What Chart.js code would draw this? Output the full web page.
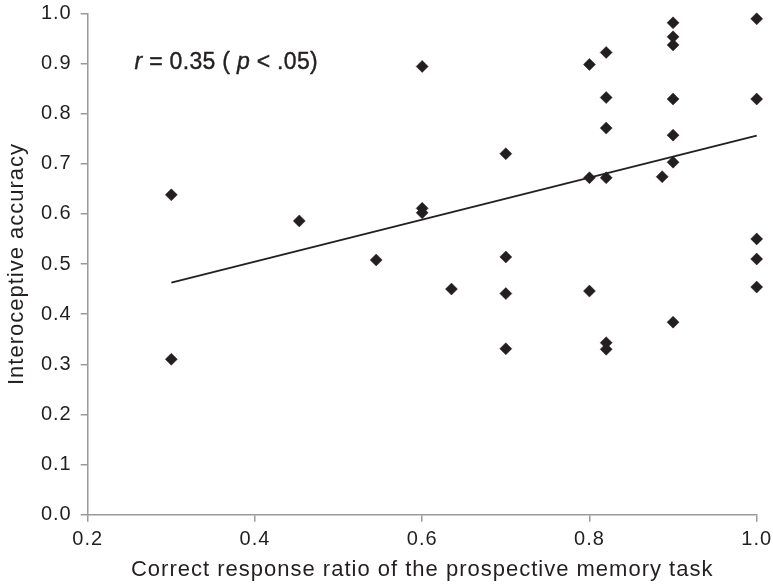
<!DOCTYPE html>
<html>
<head>
<meta charset="utf-8">
<script src="https://cdn.jsdelivr.net/npm/chart.js@4.4.1/dist/chart.umd.min.js"></script>
<style>
  html, body { margin: 0; padding: 0; background: #ffffff; }
  #wrap { width: 773px; height: 587px; position: relative; }
</style>
</head>
<body>
<div id="wrap"><canvas id="c"></canvas></div>
<script>
// ---- data ----
const xValues = [0.30, 0.30, 0.453, 0.545, 0.60, 0.60, 0.60, 0.635, 0.70, 0.70, 0.70, 0.70,
                 0.80, 0.80, 0.80, 0.82, 0.82, 0.82, 0.82, 0.82, 0.82, 0.887,
                 0.90, 0.90, 0.90, 0.90, 0.90, 0.90, 0.90, 1.00, 1.00, 1.00, 1.00, 1.00];
const yValues = [0.638, 0.310, 0.586, 0.508, 0.894, 0.611, 0.602, 0.450, 0.720, 0.514, 0.441, 0.331,
                 0.898, 0.672, 0.446, 0.922, 0.832, 0.771, 0.672, 0.343, 0.330, 0.674,
                 0.981, 0.953, 0.937, 0.829, 0.757, 0.703, 0.384, 0.989, 0.829, 0.550, 0.510, 0.454];
const trendX = [0.30, 1.00];
const trendY = [0.463, 0.756];
const xTicks = [0.2, 0.4, 0.6, 0.8, 1.0];
const yTicks = [0.0, 0.1, 0.2, 0.3, 0.4, 0.5, 0.6, 0.7, 0.8, 0.9, 1.0];
const xTitle = 'Correct response ratio of the prospective memory task';
const yTitle = 'Interoceptive accuracy';
const annotationParts = [['r', true], [' = 0.35 ( ', false], ['p', true], [' < .05)', false]];
const annotationAt = { x: 0.256, y: 0.9025 };

// ---- styling ----
const FONT = '"Liberation Sans", Arial, Helvetica, sans-serif';
const INK = '#231f20';
const AXIS = '#9a9a9a';
const SPACING = '1px';

const points = xValues.map((x, i) => ({ x: x, y: yValues[i] }));
const trend = trendX.map((x, i) => ({ x: x, y: trendY[i] }));

const spacingPlugin = {
  id: 'spacing',
  beforeUpdate(chart) { chart.ctx.letterSpacing = SPACING; },
  beforeLayout(chart) { chart.ctx.letterSpacing = SPACING; },
  beforeDraw(chart) { chart.ctx.letterSpacing = SPACING; }
};

const annotationPlugin = {
  id: 'annot',
  afterDraw(chart) {
    const ctx = chart.ctx;
    const xs = chart.scales.x, ys = chart.scales.y;
    let px = xs.getPixelForValue(annotationAt.x);
    const py = ys.getPixelForValue(annotationAt.y);
    ctx.save();
    ctx.letterSpacing = '0.3px';
    ctx.fillStyle = INK;
    ctx.strokeStyle = INK;
    ctx.lineWidth = 0.4;
    ctx.textBaseline = 'middle';
    ctx.textAlign = 'left';
    annotationParts.forEach(([txt, italic]) => {
      ctx.font = (italic ? 'italic ' : '') + '23px ' + FONT;
      ctx.fillText(txt, px, py);
      ctx.strokeText(txt, px, py);
      px += ctx.measureText(txt).width;
    });
    ctx.restore();
  }
};

new Chart(document.getElementById('c'), {
  type: 'scatter',
  data: {
    datasets: [
      {
        label: 'Participants',
        data: points,
        pointStyle: 'rectRot',
        pointRadius: 6,
        pointHoverRadius: 6,
        pointBackgroundColor: INK,
        pointBorderColor: INK,
        pointBorderWidth: 0.5,
        clip: false,
        order: 1
      },
      {
        label: 'Linear fit',
        type: 'line',
        data: trend,
        borderColor: INK,
        borderWidth: 1.8,
        pointRadius: 0,
        fill: false,
        clip: false,
        order: 2
      }
    ]
  },
  plugins: [spacingPlugin, annotationPlugin],
  options: {
    responsive: true,
    maintainAspectRatio: false,
    animation: false,
    devicePixelRatio: 1,
    layout: { padding: { left: 0, right: 16.3, top: 13.3, bottom: 0 } },
    plugins: {
      legend: { display: false },
      tooltip: { enabled: false }
    },
    scales: {
      x: {
        type: 'linear',
        min: 0.2,
        max: 1.0,
        afterBuildTicks(scale) { scale.ticks = xTicks.map(v => ({ value: v })); },
        afterFit(scale) {
          scale.height = 72.3;
          scale.paddingLeft = 0; scale.paddingRight = 0;
        },
        border: { display: true, color: AXIS, width: 1.5 },
        grid: { display: true, drawOnChartArea: false, drawTicks: true, tickLength: 7, color: AXIS, lineWidth: 1.5 },
        ticks: {
          padding: 6,
          color: INK,
          font: { family: FONT, size: 20 },
          callback: v => Number(v).toFixed(1),
          maxRotation: 0,
          autoSkip: false
        },
        title: {
          display: true,
          text: xTitle,
          color: INK,
          font: { family: FONT, size: 22 },
          padding: { top: 0, bottom: 3.4 }
        }
      },
      y: {
        type: 'linear',
        min: 0,
        max: 1.0,
        afterBuildTicks(scale) { scale.ticks = yTicks.map(v => ({ value: v })); },
        afterFit(scale) {
          scale.width = 87.7;
          scale.paddingTop = 0; scale.paddingBottom = 0;
        },
        border: { display: true, color: AXIS, width: 1.5 },
        grid: { display: true, drawOnChartArea: false, drawTicks: true, tickLength: 7, color: AXIS, lineWidth: 1.5 },
        ticks: {
          padding: 9,
          color: INK,
          font: { family: FONT, size: 20 },
          callback: v => Number(v).toFixed(1),
          autoSkip: false
        },
        title: {
          display: true,
          text: yTitle,
          color: INK,
          font: { family: FONT, size: 22 },
          padding: { top: 4.2, bottom: 0 }
        }
      }
    }
  }
});
</script>
</body>
</html>
